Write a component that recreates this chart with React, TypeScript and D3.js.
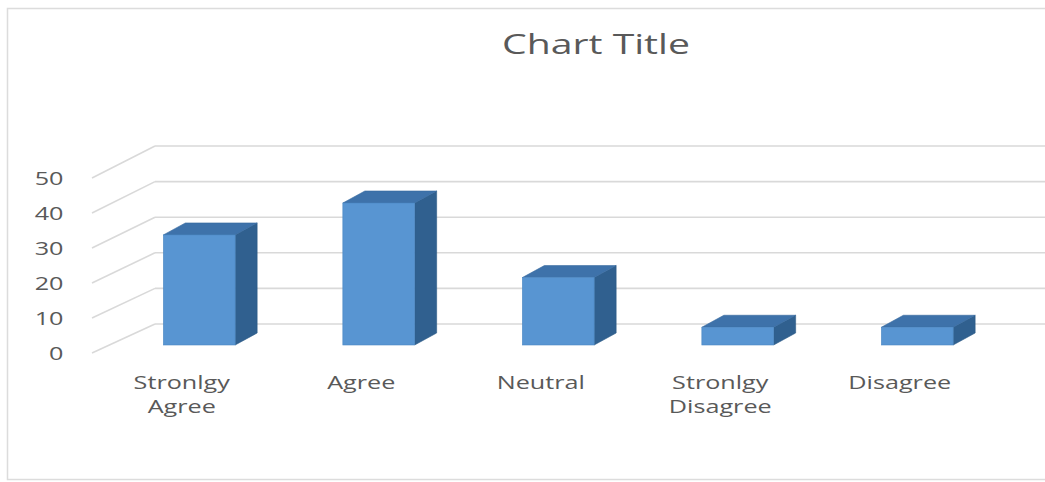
import React from "react";
import * as d3 from "d3";

const categories: string[][] = [
  ["Stronlgy", "Agree"],
  ["Agree"],
  ["Neutral"],
  ["Stronlgy", "Disagree"],
  ["Disagree"],
];
const values: number[] = [31, 40, 19, 5, 5];
const yTicks: number[] = [0, 10, 20, 30, 40, 50];
const title = "Chart Title";

const W = 1045;
const H = 482;
const STRETCH = 1.4;
const FONT = "'Open Sans', 'Noto Sans', sans-serif";
const TEXT = "#595959";
const GRID = "#d9d9d9";

export default function App() {
  const keys = categories.map((c) => c.join(" "));
  const x = d3.scaleBand<string>().domain(keys).range([92, 989.5]).padding(0);
  const yFront = d3.scaleLinear().domain([0, 50]).range([353, 178]);
  const yBack = d3.scaleLinear().domain([0, 50]).range([324, 146]);
  const yBar = d3.scaleLinear().domain([0, 50]).range([345, 167.5]);
  const wallDX = 63;
  const backRight = (x.range()[1] as number) + wallDX;
  const barW = x.bandwidth() * 0.4;
  const barShift = 17.5;
  const depthX = 22;
  const depthY = 12;

  return (
    <svg
      width={W}
      height={H}
      style={{ position: "absolute", left: 0, top: 0, background: "#fff" }}
    >
      <rect x={7.5} y={8.5} width={W} height={471} fill="#fff" stroke="#dcdcdc" strokeWidth={1.5} />
      <text
        transform={`translate(596,54) scale(${STRETCH},1)`}
        textAnchor="middle"
        fontFamily={FONT}
        fontSize={28}
        fill={TEXT}
      >
        {title}
      </text>
      {/* back wall gridlines */}
      {yTicks.map((t) => (
        <line
          key={"b" + t}
          x1={92 + wallDX}
          x2={backRight}
          y1={yBack(t)}
          y2={yBack(t)}
          stroke={GRID}
          strokeWidth={1.6}
        />
      ))}
      {/* side wall slanted lines */}
      {yTicks.map((t) => (
        <line
          key={"s" + t}
          x1={92}
          x2={92 + wallDX}
          y1={yFront(t)}
          y2={yBack(t)}
          stroke={GRID}
          strokeWidth={1.6}
        />
      ))}
      {/* y tick labels */}
      {yTicks.map((t) => (
        <text
          key={"l" + t}
          transform={`translate(63.5,${yFront(t) + 6.5}) scale(${STRETCH},1)`}
          textAnchor="end"
          fontFamily={FONT}
          fontSize={18}
          fill={TEXT}
        >
          {t}
        </text>
      ))}
      {/* bars */}
      {keys.map((k, i) => {
        const cx = (x(k) as number) + x.bandwidth() / 2 + barShift;
        const x0 = cx - barW / 2;
        const x1 = cx + barW / 2;
        const yt = yBar(values[i]);
        const yb = yBar(0);
        const top = `${x0},${yt} ${x1},${yt} ${x1 + depthX},${yt - depthY} ${x0 + depthX},${yt - depthY}`;
        const side = `${x1},${yt} ${x1 + depthX},${yt - depthY} ${x1 + depthX},${yb - depthY} ${x1},${yb}`;
        return (
          <g key={"bar" + k}>
            <polygon points={side} fill="#30608f" stroke="#2c5a87" strokeWidth={0.6} />
            <polygon points={top} fill="#3e72aa" stroke="#386a9f" strokeWidth={0.6} />
            <rect x={x0} y={yt} width={barW} height={yb - yt} fill="#5895d2" stroke="#4c88c4" strokeWidth={0.6} />
          </g>
        );
      })}
      {/* category labels */}
      {categories.map((lines, i) => {
        const cx = (x(keys[i]) as number) + x.bandwidth() / 2;
        return lines.map((ln, j) => (
          <text
            key={"c" + i + "-" + j}
            transform={`translate(${cx},${389 + j * 24}) scale(${STRETCH},1)`}
            textAnchor="middle"
            fontFamily={FONT}
            fontSize={18}
            fill={TEXT}
          >
            {ln}
          </text>
        ));
      })}
    </svg>
  );
}
